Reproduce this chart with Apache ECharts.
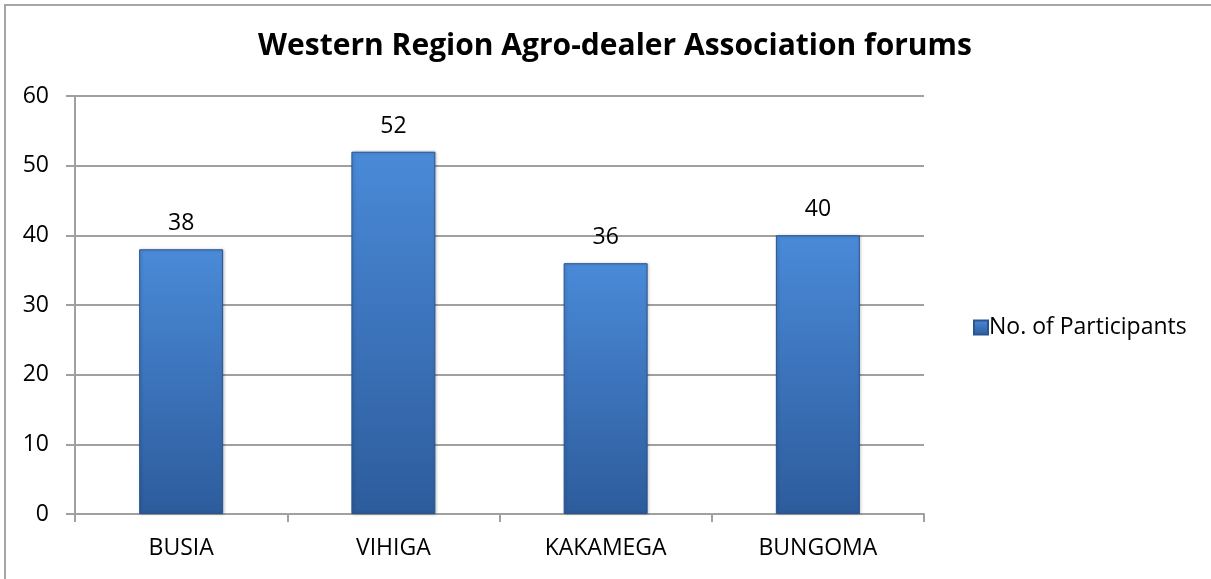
<!DOCTYPE html>
<html>
<head>
<meta charset="utf-8">
<script src="https://cdn.jsdelivr.net/npm/echarts@6/dist/echarts.min.js"></script>
<style>
  html, body { margin: 0; padding: 0; background: #fff; }
  #frame {
    position: absolute; left: 4px; top: 4px; width: 1207px; height: 575px;
    border-top: 2px solid #a6a6a6; border-left: 2px solid #a6a6a6;
  }
  #chart { position: absolute; left: 0; top: 0; width: 1211px; height: 579px; }
</style>
</head>
<body>
<div id="frame"></div>
<div id="chart"></div>
<script>
const categories = ['BUSIA', 'VIHIGA', 'KAKAMEGA', 'BUNGOMA']
const participants = [38, 52, 36, 40]
const seriesName = 'No. of Participants'

const font = '"Open Sans", Lato, sans-serif'

const barColor = new echarts.graphic.LinearGradient(0, 0, 0, 1, [
  { offset: 0, color: '#4a8ad8' },
  { offset: 1, color: '#2d5c9c' }
])

const myChart = echarts.init(document.getElementById('chart'))

const option = {
  animation: false,
  title: {
    text: 'Western Region Agro-dealer Association forums',
    left: 610,
    textAlign: 'center',
    top: 26,
    textStyle: {
      fontFamily: font,
      fontSize: 30,
      fontWeight: 'bold',
      color: '#000'
    }
  },
  legend: {
    orient: 'vertical',
    left: 968,
    top: 311,
    itemWidth: 14,
    itemHeight: 14,
    itemGap: 8,
    icon: 'rect',
    textStyle: {
      fontFamily: font,
      fontSize: 23,
      color: '#000',
      padding: [0, 0, 0, -4]
    },
    data: [seriesName]
  },
  grid: {
    left: 75,
    right: 287,
    top: 96,
    bottom: 65
  },
  xAxis: {
    type: 'category',
    data: categories,
    axisLine: { lineStyle: { color: '#a0a0a0', width: 2 } },
    axisTick: { show: true, length: 8, lineStyle: { color: '#a0a0a0', width: 2 } },
    axisLabel: {
      margin: 23,
      fontFamily: font,
      fontSize: 23,
      color: '#000'
    }
  },
  yAxis: {
    type: 'value',
    min: 0,
    max: 60,
    interval: 10,
    axisLine: { show: true, lineStyle: { color: '#a0a0a0', width: 2 } },
    axisTick: { show: true, length: 9, lineStyle: { color: '#a0a0a0', width: 2 } },
    splitLine: { lineStyle: { color: '#a0a0a0', width: 2 } },
    axisLabel: {
      margin: 26,
      fontFamily: font,
      fontSize: 23,
      color: '#000'
    }
  },
  series: [
    {
      name: seriesName,
      type: 'bar',
      data: participants,
      barWidth: 84,
      itemStyle: {
        color: barColor,
        borderColor: '#2a5590',
        borderWidth: 1,
        shadowColor: 'rgba(0,0,0,0.25)',
        shadowBlur: 3,
        shadowOffsetX: 1
      },
      label: {
        show: true,
        position: 'top',
        distance: 14,
        fontFamily: font,
        fontSize: 23,
        color: '#000'
      }
    }
  ]
}

myChart.setOption(option)
</script>
</body>
</html>
